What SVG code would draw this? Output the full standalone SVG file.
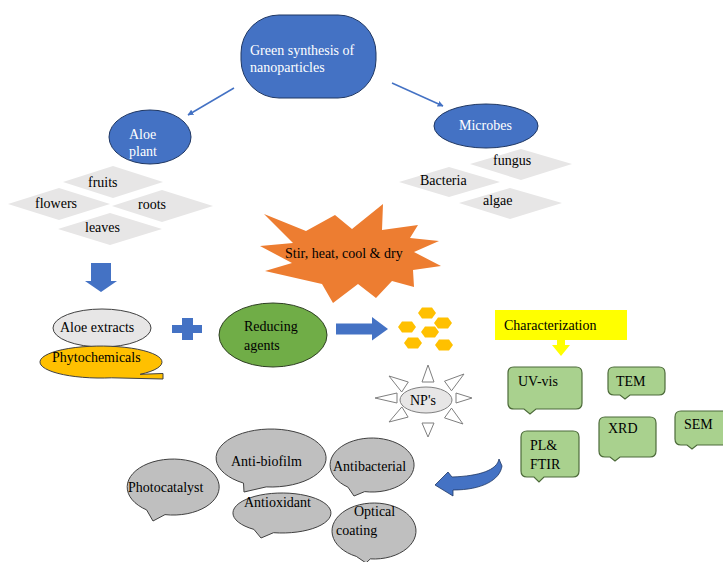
<svg xmlns="http://www.w3.org/2000/svg" width="723" height="562" viewBox="0 0 723 562" font-family="'Liberation Serif', serif">
<defs>
<style>
text{font-family:'Liberation Serif', serif;font-size:14px;fill:#000}
.w{fill:#fff}
.blue{fill:#4472C4;stroke:#1f3763;stroke-width:1}
.dia{fill:#E7E6E6}
.green{fill:#A9D18E;stroke:#4d6b3a;stroke-width:1.2}
.gray{fill:#BFBFBF;stroke:#404040;stroke-width:1}
.tri{fill:#fff;stroke:#7f7f7f;stroke-width:1}
.hex{fill:#FFC000}
.thin{stroke:#4472C4;stroke-width:1.5;fill:none;marker-end:url(#ah)}
.block{fill:#4472C4}
</style>
<marker id="ah" viewBox="0 0 10 10" refX="9" refY="5" markerWidth="6" markerHeight="6" orient="auto" markerUnits="userSpaceOnUse">
<path d="M0,0 L10,5 L0,10 Z" fill="#4472C4"/>
</marker>
<polygon id="hx" points="-9,0 -5,-5.5 5,-5.5 9,0 5,5.5 -5,5.5"/>
</defs>
<rect width="723" height="562" fill="#fff"/>

<g id="connectors">
<line class="thin" x1="234" y1="88" x2="188" y2="115"/>
<line class="thin" x1="392" y1="83" x2="443" y2="106"/>
<polygon class="block" points="91,263 111,263 111,281 117,281 101,292 85,281 91,281"/>
<polygon class="block" points="336,323.5 372,323.5 372,317 388,329 372,340.5 372,334.5 336,334.5"/>
<path class="block" stroke="#1f3763" stroke-width="0.8" d="M499,459 C497,470 480,476 452,477 L448,472 L435,485 L453,496 L453,490 C482,490 500,480 502,466 Z"/>
</g>

<g id="green-synthesis">
<rect class="blue" x="241" y="15" width="135" height="83" rx="38" ry="38"/>
<text class="w" x="250" y="55">Green synthesis  of</text>
<text class="w" x="250" y="72">nanoparticles</text>
</g>

<g id="aloe-plant">
<ellipse class="blue" cx="150" cy="137" rx="41" ry="27"/>
<text class="w" x="129" y="139">Aloe</text>
<text class="w" x="129" y="156">plant</text>
</g>

<g id="microbes">
<ellipse class="blue" cx="486" cy="126" rx="52" ry="22"/>
<text class="w" x="459" y="130">Microbes</text>
</g>

<g id="fruits"><polygon class="dia" points="63,182 113,166 163,182 113,198"/><text x="88" y="187">fruits</text></g>
<g id="flowers"><polygon class="dia" points="8,204 59,188 110,204 59,220"/><text x="35" y="208">flowers</text></g>
<g id="roots"><polygon class="dia" points="112,206 162,190 213,206 162,222"/><text x="138" y="209">roots</text></g>
<g id="leaves"><polygon class="dia" points="58,229 110,213 162,229 110,245"/><text x="85" y="232">leaves</text></g>

<g id="fungus"><polygon class="dia" points="470,164 521,149 572,164 521,180"/><text x="493" y="165">fungus</text></g>
<g id="bacteria"><polygon class="dia" points="399,182 449,167 500,182 449,197"/><text x="420" y="185">Bacteria</text></g>
<g id="algae"><polygon class="dia" points="459,203 510,188 562,203 510,219"/><text x="483" y="205">algae</text></g>

<g id="stir">
<polygon fill="#ED7D31" points="264,214 306,231 335,215 352,229 383,204 382,230 418,225 410,238 439,241 414,252 441,266 413,270 414,287 392,281 376,298 358,284 333,303 322,284 265,271 292,263 260,246 293,243"/>
<text x="285" y="258">Stir, heat, cool &amp; dry</text>
</g>

<g id="aloe-extracts">
<ellipse cx="102" cy="328" rx="49" ry="19" fill="#E7E6E6" stroke="#404040" stroke-width="1"/>
<text x="60" y="332">Aloe  extracts</text>
</g>

<g id="phytochemicals">
<path fill="#FFC000" stroke="#404040" stroke-width="1" d="M140.2,374.3 L163,373.5 L163,379 L111.6,377.8 A61,16 0 1 1 140.2,374.3 Z"/>
<text x="52" y="362">Phytochemicals</text>
</g>

<g id="plus">
<polygon class="block" points="182,318 193,318 193,325 202,325 202,333 193,333 193,340 182,340 182,333 172,333 172,325 182,325"/>
</g>

<g id="reducing-agents">
<ellipse cx="273" cy="335" rx="54" ry="32" fill="#70AD47" stroke="#2f3f24" stroke-width="1"/>
<text x="244" y="331">Reducing</text>
<text x="244" y="350">agents</text>
</g>

<g id="nanoparticles-hex">
<use href="#hx" class="hex" x="427" y="313"/>
<use href="#hx" class="hex" x="407" y="327"/>
<use href="#hx" class="hex" x="443" y="323"/>
<use href="#hx" class="hex" x="430" y="332"/>
<use href="#hx" class="hex" x="413" y="343"/>
<use href="#hx" class="hex" x="444" y="345"/>
</g>

<g id="characterization">
<rect x="495" y="310" width="132" height="30" fill="#FFFF00"/>
<polygon fill="#FFFF00" points="557,340 565,340 565,345 570,345 561,356 552,345 557,345"/>
<text x="504" y="330">Characterization</text>
</g>

<g id="nps">
<polygon class="tri" points="428,365 422,382 434,382"/>
<polygon class="tri" points="428,437 422,423 434,423"/>
<polygon class="tri" points="375,398 397,393 397,403"/>
<polygon class="tri" points="472,398 456,393 456,403"/>
<polygon class="tri" points="389,376 408.3,382 401.7,392"/>
<polygon class="tri" points="464,374 451.5,390.8 444.5,381.2"/>
<polygon class="tri" points="389,422 408.1,417.1 401.9,406.9"/>
<polygon class="tri" points="463,424 444.5,417.9 451.5,408.1"/>
<ellipse cx="426" cy="400" rx="26" ry="13" fill="#E7E6E6" stroke="#7f7f7f" stroke-width="1"/>
<text x="410" y="405">NP's</text>
</g>

<g id="uv-vis"><path class="green" d="M514,367 H576 Q582,367 582,373 V403 Q582,409 576,409 H536 L530,414 L524,409 H514 Q508,409 508,403 V373 Q508,367 514,367 Z"/><text x="518" y="386">UV-vis</text></g>
<g id="tem"><path class="green" d="M614,367 H659 Q665,367 665,373 V389 Q665,395 659,395 H630 L625,399 L620,395 H614 Q608,395 608,389 V373 Q608,367 614,367 Z"/><text x="616" y="386">TEM</text></g>
<g id="xrd"><path class="green" d="M605,417 H650 Q656,417 656,423 V451 Q656,457 650,457 H620 L615,461 L610,457 H605 Q599,457 599,451 V423 Q599,417 605,417 Z"/><text x="608" y="433">XRD</text></g>
<g id="sem"><path class="green" d="M681,411 H730 V445 H697 L692,449 L687,445 H681 Q675,445 675,439 V417 Q675,411 681,411 Z"/><text x="684" y="429">SEM</text></g>
<g id="pl-ftir"><path class="green" d="M527,431 H573 Q579,431 579,437 V471 Q579,477 573,477 H544 L539,482 L534,477 H527 Q521,477 521,471 V437 Q521,431 527,431 Z"/><text x="530" y="450">PL&amp;</text><text x="530" y="469">FTIR</text></g>

<g id="photocatalyst"><path class="gray" d="M165,514.6 A46,28 0 1 0 146.6,509.9 L153,521 Z"/><text x="128" y="492">Photocatalyst</text></g>
<g id="anti-biofilm"><path class="gray" d="M266.2,486.9 A55,29 0 1 0 243.5,483.1 L244,492 Z"/><text x="231" y="466">Anti-biofilm</text></g>
<g id="antibacterial"><path class="gray" d="M364.7,491.6 A42,27 0 1 0 347.9,487.1 L354,496 Z"/><text x="333" y="471">Antibacterial</text></g>
<g id="antioxidant"><path class="gray" d="M273.5,532.7 A49,20 0 1 0 253.9,529.4 L261,538 Z"/><text x="244" y="507">Antioxidant</text></g>
<g id="optical-coating"><path class="gray" d="M370.3,558.9 A42,28 0 1 0 356.3,556.4 L366,563 Z"/><text x="354" y="516">Optical</text><text x="336" y="535">coating</text></g>
</svg>
